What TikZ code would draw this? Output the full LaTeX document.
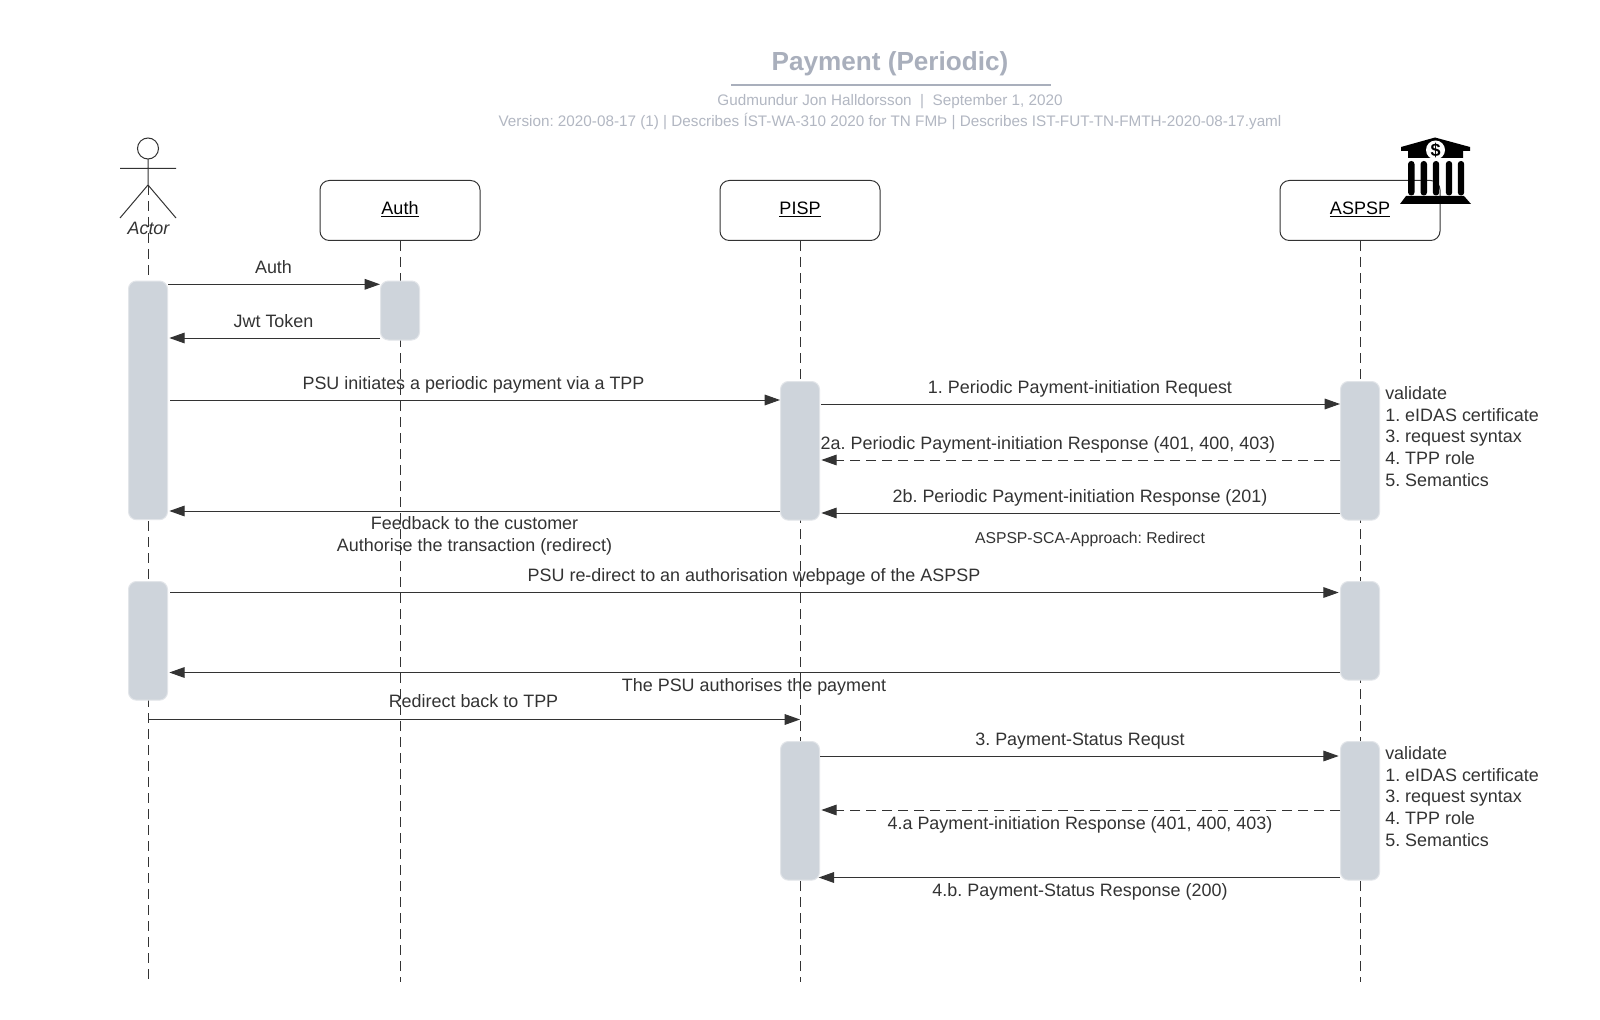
\documentclass[tikz,border=0pt]{standalone}
\usepackage{fontspec}
\setmainfont{Liberation Sans}
\usetikzlibrary{arrows.meta}
\definecolor{ink}{HTML}{333333}
\definecolor{bar}{HTML}{CED4DB}
\definecolor{head}{HTML}{A9AFBC}
\definecolor{sub}{HTML}{B2B7C2}
\frenchspacing
\tikzset{
  x=0.75pt,y=-0.75pt,
  lifebox/.style={draw=ink,line width=0.75pt,rounded corners=7pt,minimum width=120pt,minimum height=45pt,inner sep=0pt,fill=white,anchor=north west,font=\fontsize{13.5}{15}\selectfont,text=black},
  lifeline/.style={draw=ink,line width=0.75pt,dash pattern=on 7.5pt off 4.5pt},
  bar/.style={fill=bar,draw=bar!60!white,line width=0.75pt,rounded corners=6pt,minimum width=29.25pt,inner sep=0pt,anchor=north west},
  msg/.style={draw=ink,line width=0.75pt,-{Triangle[length=11.5pt,width=8pt]}},
  msgin/.style={msg,shorten >=1pt},
  msgd/.style={msgin,dash pattern=on 7.5pt off 4.5pt},
  lab/.style={anchor=base,yshift=-4.5pt,inner sep=0pt,text=ink,font=\fontsize{13.45}{15}\selectfont},
  labl/.style={lab,anchor=base west},
}
\begin{document}
\begin{tikzpicture}
\useasboundingbox[fill=white] (0,0) rectangle (1600,1020);
% title
\node[anchor=base,inner sep=0pt,text=head,font=\fontsize{19.6}{24}\bfseries\selectfont] (title) at (890,71) {Payment (Periodic)};
\draw[draw=head,line width=1.5pt] (731,84.7) -- (1051,84.7);
\node[anchor=base,inner sep=0pt,text=sub,font=\fontsize{11.45}{13}\selectfont] (sub1) at (890,106) {Gudmundur Jon Halldorsson\ \ |\ \ September 1, 2020};
\node[anchor=base,inner sep=0pt,text=sub,font=\fontsize{11.45}{13}\selectfont] (sub2) at (890,126.5) {Version: 2020-08-17 (1) | Describes ÍST-WA-310 2020 for TN FMÞ | Describes IST-FUT-TN-FMTH-2020-08-17.yaml};
% lifeline heads
\coordinate (actor) at (148.5,185);
\node[lifebox] (auth) at (319.5,180) {\raisebox{3.7pt}{\underline{Auth}}};
\node[lifebox] (pisp) at (719.5,180) {\raisebox{3.7pt}{\underline{PISP}}};
\node[lifebox] (aspsp) at (1279.5,180) {\raisebox{3.7pt}{\underline{ASPSP}}};
\coordinate (actorend) at (148.5,982);
\coordinate (authend) at (400,982);
\coordinate (pispend) at (800,982);
\coordinate (aspspend) at (1360,982);
\draw[lifeline] (actor) -- (actorend);
\draw[lifeline] (auth.south) -- (authend);
\draw[lifeline] (pisp.south) -- (pispend);
\draw[lifeline] (aspsp.south) -- (aspspend);
% actor
\draw[draw=ink,line width=0.75pt,fill=white] (148,148.5) circle (10.5);
\draw[draw=ink,line width=0.75pt] (148,159) -- (148,185) (120,168.5) -- (176,168.5) (120,218) -- (148,185) -- (176,218);
\node[lab,font=\fontsize{13.45}{15}\itshape\selectfont] (actorlabel) at (148.5,228) {Actor};
% activation bars
\node[bar,minimum height=179pt] (a1) at (128,280.5) {};
\node[bar,minimum height=44.25pt] (u1) at (380,280.5) {};
\node[bar,minimum height=104pt] (p1) at (780,381) {};
\node[bar,minimum height=104pt] (s1) at (1340,381) {};
\node[bar,minimum height=89pt] (a2) at (128,581) {};
\node[bar,minimum height=74pt] (s2) at (1340,581) {};
\node[bar,minimum height=104pt] (p2) at (780,741) {};
\node[bar,minimum height=104pt] (s3) at (1340,741) {};
% messages
\draw[msg] (a1.east |- 0,284.3) -- (u1.west |- 0,284.3);
\draw[msgin] (u1.west |- 0,338) -- (a1.east |- 0,338);
\draw[msg,shorten <=1.5pt] (a1.east |- 0,400) -- (p1.west |- 0,400);
\draw[msg,shorten <=1pt] (p1.east |- 0,404) -- (s1.west |- 0,404);
\draw[msgd] (s1.west |- 0,460) -- (p1.east |- 0,460);
\draw[msgin] (s1.west |- 0,513) -- (p1.east |- 0,513);
\draw[msgin] (p1.west |- 0,511) -- (a1.east |- 0,511);
\draw[msgin,shorten <=1.5pt] (a2.east |- 0,592.5) -- (s2.west |- 0,592.5);
\draw[msgin] (s2.west |- 0,672.5) -- (a2.east |- 0,672.5);
\draw[msg] (actorend |- 0,719.5) -- (pispend |- 0,719.5);
\draw[msgin] (p2.east |- 0,756) -- (s3.west |- 0,756);
\draw[msgd] (s3.west |- 0,810) -- (p2.east |- 0,810);
\draw[msg,shorten >=-1pt] (s3.west |- 0,877.5) -- (p2.east |- 0,877.5);
% labels
\node[lab] (l1) at (273.5,267) {Auth};
\node[lab] (l2) at (273.5,321) {Jwt Token};
\node[lab] (l3) at (473.5,383.5) {PSU initiates a periodic payment via a TPP};
\node[lab] (l4) at (1080,387) {1. Periodic Payment-initiation Request};
\node[lab] (l5) at (1048,443) {2a. Periodic Payment-initiation Response (401, 400, 403)};
\node[lab] (l6) at (1080,496) {2b. Periodic Payment-initiation Response (201)};
\node[lab] (l7) at (474.5,523.5) {Feedback to the customer};
\node[lab] (l8) at (474.5,545) {Authorise the transaction (redirect)};
\node[lab,font=\fontsize{11.8}{13}\selectfont] (l9) at (1090,537.5) {ASPSP-SCA-Approach: Redirect};
\node[lab] (l10) at (754,575.5) {PSU re-direct to an authorisation webpage of the ASPSP};
\node[lab] (l11) at (754,685) {The PSU authorises the payment};
\node[lab] (l12) at (473.5,701.7) {Redirect back to TPP};
\node[lab] (l13) at (1080,739) {3. Payment-Status Requst};
\node[lab] (l14) at (1080,823.5) {4.a Payment-initiation Response (401, 400, 403)};
\node[lab] (l15) at (1080,890) {4.b. Payment-Status Response (200)};
\node[labl] (v1) at (1385,393.5) {validate};
\node[labl] (v2) at (1385,415.2) {1. eIDAS certificate};
\node[labl] (v3) at (1385,436.6) {3. request syntax};
\node[labl] (v4) at (1385,458.5) {4. TPP role};
\node[labl] (v5) at (1385,480) {5. Semantics};
\node[labl] (w1) at (1385,753.5) {validate};
\node[labl] (w2) at (1385,775.2) {1. eIDAS certificate};
\node[labl] (w3) at (1385,796.6) {3. request syntax};
\node[labl] (w4) at (1385,818.5) {4. TPP role};
\node[labl] (w5) at (1385,840) {5. Semantics};
% bank icon
\fill[black] (1401,147) -- (1435,137.5) -- (1470,147) -- (1470,151) -- (1463,151) -- (1463,158) -- (1408,158) -- (1408,151) -- (1401,151) -- cycle;
\fill[white] (1435.5,150) circle (9.5);
\node[inner sep=0pt,font=\fontsize{13.5}{13.5}\bfseries\selectfont] (dollar) at (1435.5,150) {\$};
\foreach \c in {1411.3,1423.8,1436,1449,1461}{
  \fill[black,rounded corners=2.3pt] (\c-3.2,161) rectangle (\c+3.2,195.5);
}
\fill[black] (1406,196) -- (1464,196) -- (1471,204) -- (1400,204) -- cycle;
\end{tikzpicture}
\end{document}
